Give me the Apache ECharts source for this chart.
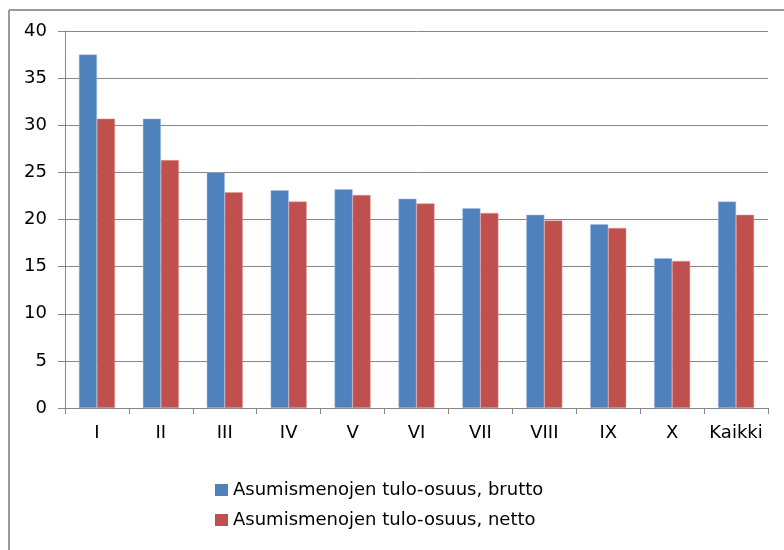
<!DOCTYPE html>
<html>
<head>
<meta charset="utf-8">
<script src="https://cdn.jsdelivr.net/npm/echarts@6/dist/echarts.min.js"></script>
<style>
  html, body { margin: 0; padding: 0; background: #fff; }
  #chart { width: 784px; height: 550px; }
</style>
</head>
<body>
<div id="chart"></div>
<script>
// luokat (tulodesiilit + kaikki)
const categories = ['I', 'II', 'III', 'IV', 'V', 'VI', 'VII', 'VIII', 'IX', 'X', 'Kaikki']
const seriesNames = ['Asumismenojen tulo-osuus, brutto', 'Asumismenojen tulo-osuus, netto']
const brutto = [37.5, 30.7, 25.0, 23.1, 23.2, 22.2, 21.2, 20.5, 19.5, 15.9, 21.9]
const netto = [30.7, 26.3, 22.9, 21.9, 22.6, 21.7, 20.7, 19.9, 19.1, 15.6, 20.5]
const yTicks = { min: 0, max: 40, interval: 5 }

const axisGray = '#878787'
const font = '"DejaVu Sans", Verdana, sans-serif'

const chart = echarts.init(document.getElementById('chart'))
chart.setOption({
  animation: false,
  backgroundColor: '#fff',
  grid: { left: 65, right: 16, top: 31, bottom: 142, containLabel: false },
  // kehys
  graphic: [
    { type: 'line', shape: { x1: 9, y1: 10, x2: 784, y2: 10 }, style: { stroke: '#9a9a9a', lineWidth: 2 } },
    { type: 'line', shape: { x1: 9, y1: 10, x2: 9, y2: 550 }, style: { stroke: '#9a9a9a', lineWidth: 2 } }
  ],
  legend: {
    orient: 'vertical',
    left: 210,
    top: 476,
    itemWidth: 13,
    itemHeight: 12,
    itemGap: 12,
    icon: 'rect',
    itemStyle: { borderWidth: 0 },
    textStyle: { fontFamily: font, fontSize: 18, color: '#000' },
    data: seriesNames
  },
  xAxis: {
    type: 'category',
    data: categories,
    axisLine: { lineStyle: { color: axisGray, width: 1 } },
    axisTick: { show: true, interval: 0, length: 6, lineStyle: { color: axisGray } },
    axisLabel: { interval: 0, color: '#000', fontFamily: font, fontSize: 18, margin: 16 }
  },
  yAxis: {
    type: 'value',
    min: yTicks.min,
    max: yTicks.max,
    interval: yTicks.interval,
    axisLine: { show: true, lineStyle: { color: axisGray, width: 1 } },
    axisTick: { show: true, length: 7, lineStyle: { color: axisGray } },
    axisLabel: { color: '#000', fontFamily: font, fontSize: 18, margin: 18 },
    splitLine: { lineStyle: { color: axisGray, width: 1 } }
  },
  series: [
    {
      name: seriesNames[0],
      type: 'bar',
      data: brutto,
      barWidth: 18,
      barGap: '0%',
      itemStyle: { color: '#4f81bd', borderColor: '#9fbbe0', borderWidth: 0.5 }
    },
    {
      name: seriesNames[1],
      type: 'bar',
      data: netto,
      barWidth: 18,
      barGap: '0%',
      itemStyle: { color: '#c0504d', borderColor: '#e09896', borderWidth: 0.5 }
    }
  ]
})
</script>
</body>
</html>
